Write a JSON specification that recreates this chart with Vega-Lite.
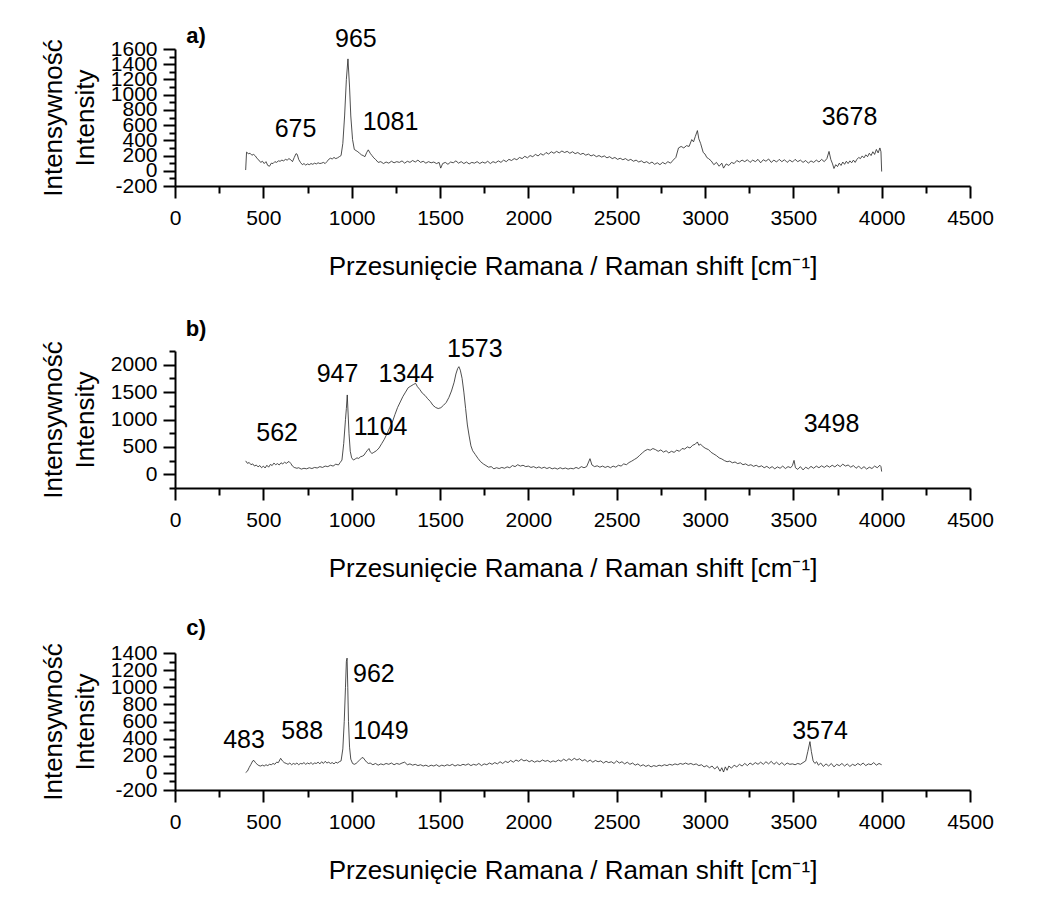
{
"$schema": "https://vega.github.io/schema/vega-lite/v6.json",
"padding": {"left": 40, "top": 24, "right": 5, "bottom": 5},
"background": "white",
"bounds": "flush",
"spacing": 165,
"config": {
  "view": {"stroke": null},
  "font": "Liberation Sans",
  "axis": {"labelFont": "Liberation Sans", "labelFontSize": 21, "labelColor": "#000", "titleFont": "Liberation Sans", "titleFontSize": 26, "titleFontWeight": "normal", "titleColor": "#000", "domainColor": "#000", "domainWidth": 2, "tickColor": "#000", "tickWidth": 2, "grid": false, "labelFlush": false, "labelOverlap": false, "format": "d", "tickCount": 60},
  "text": {"font": "Liberation Sans", "fontSize": 25, "color": "#000"}
},
"datasets": {
"a": [[400,10],[405,245],[415,225],[425,230],[435,205],[445,215],[455,195],[465,160],[475,140],[485,110],[495,125],[505,95],[515,120],[525,70],[535,60],[545,100],[555,95],[565,120],[575,110],[585,130],[595,125],[605,140],[615,130],[625,150],[635,140],[645,160],[655,145],[665,120],[675,175],[685,225],[692,215],[700,150],[710,110],[721,80],[730,95],[740,75],[750,90],[760,80],[770,95],[780,85],[790,100],[800,90],[810,105],[820,95],[830,100],[840,110],[850,95],[860,120],[870,150],[880,165],[890,155],[900,175],[910,160],[920,170],[930,185],[940,200],[950,360],[960,720],[970,1200],[979,1470],[988,1100],[995,720],[1005,410],[1015,280],[1025,265],[1035,250],[1045,230],[1055,210],[1065,200],[1075,185],[1085,240],[1094,275],[1105,230],[1115,200],[1125,170],[1135,150],[1150,110],[1165,120],[1180,95],[1195,115],[1210,100],[1225,125],[1240,105],[1255,120],[1270,110],[1285,130],[1300,100],[1315,125],[1330,110],[1345,135],[1360,115],[1375,140],[1390,110],[1405,125],[1420,100],[1435,120],[1450,105],[1465,115],[1480,95],[1495,110],[1504,35],[1515,95],[1530,110],[1545,85],[1560,115],[1575,105],[1590,130],[1605,100],[1620,120],[1635,95],[1650,115],[1665,90],[1680,110],[1695,100],[1710,120],[1725,95],[1740,115],[1755,100],[1770,125],[1785,95],[1800,120],[1815,105],[1830,130],[1845,110],[1860,140],[1875,120],[1890,150],[1905,135],[1920,160],[1935,145],[1950,175],[1965,160],[1980,190],[1995,170],[2010,200],[2025,185],[2040,215],[2055,195],[2070,225],[2085,205],[2100,240],[2115,220],[2130,250],[2145,230],[2160,255],[2175,235],[2190,260],[2205,240],[2220,255],[2235,230],[2250,250],[2265,225],[2280,240],[2295,215],[2310,230],[2325,205],[2340,220],[2355,195],[2370,210],[2385,185],[2400,200],[2415,180],[2430,195],[2445,170],[2460,185],[2475,160],[2490,175],[2505,150],[2520,165],[2535,145],[2550,160],[2565,135],[2580,150],[2595,125],[2610,140],[2625,115],[2640,130],[2655,105],[2670,120],[2685,95],[2700,115],[2715,85],[2730,105],[2745,80],[2760,110],[2775,90],[2790,120],[2805,100],[2820,140],[2835,175],[2850,300],[2865,320],[2880,300],[2895,330],[2910,320],[2925,410],[2935,380],[2945,450],[2957,528],[2965,420],[2975,360],[2990,240],[3000,220],[3010,175],[3020,160],[3035,130],[3050,80],[3065,110],[3080,60],[3095,100],[3105,35],[3120,90],[3135,70],[3150,110],[3165,95],[3180,135],[3195,115],[3210,140],[3225,120],[3240,145],[3255,110],[3270,140],[3285,120],[3300,150],[3315,105],[3330,145],[3345,125],[3360,155],[3375,110],[3390,140],[3405,115],[3420,150],[3435,120],[3450,145],[3465,110],[3480,140],[3495,115],[3510,150],[3525,120],[3540,140],[3555,110],[3570,135],[3585,100],[3600,130],[3615,110],[3630,140],[3645,115],[3660,150],[3675,120],[3690,160],[3702,254],[3712,150],[3722,90],[3730,30],[3740,80],[3750,55],[3760,100],[3770,70],[3780,115],[3790,85],[3800,125],[3810,95],[3820,130],[3830,105],[3840,140],[3850,110],[3860,150],[3870,175],[3880,160],[3890,195],[3900,170],[3910,210],[3920,185],[3930,230],[3940,200],[3950,250],[3960,215],[3970,280],[3980,235],[3990,300],[3996,250],[4000,-10]],
"b": [[400,245],[410,200],[420,215],[430,175],[440,190],[450,150],[460,170],[470,135],[480,160],[490,120],[500,150],[510,115],[520,165],[530,130],[540,180],[550,160],[560,205],[570,175],[580,195],[590,170],[600,210],[610,190],[620,220],[630,200],[645,235],[655,200],[665,150],[675,125],[690,110],[700,120],[715,95],[730,110],[745,100],[760,120],[775,105],[790,125],[805,115],[820,140],[835,125],[850,150],[865,140],[880,165],[895,150],[910,185],[925,170],[935,215],[945,260],[955,560],[965,1000],[970,1200],[975,1448],[980,1100],[985,740],[992,420],[1000,300],[1010,260],[1020,280],[1030,300],[1040,290],[1050,320],[1060,330],[1070,350],[1080,400],[1090,440],[1098,470],[1105,410],[1115,380],[1125,400],[1140,430],[1155,480],[1170,560],[1185,640],[1200,740],[1215,850],[1230,950],[1245,1090],[1260,1220],[1275,1320],[1290,1420],[1305,1500],[1320,1580],[1335,1610],[1350,1640],[1362,1660],[1372,1600],[1385,1550],[1400,1480],[1415,1440],[1430,1380],[1445,1330],[1460,1260],[1475,1220],[1490,1200],[1505,1215],[1520,1260],[1535,1310],[1550,1400],[1565,1520],[1580,1680],[1590,1830],[1600,1930],[1607,1964],[1615,1900],[1625,1750],[1635,1500],[1645,1200],[1655,900],[1665,700],[1675,520],[1685,430],[1700,360],[1715,290],[1730,230],[1745,190],[1760,160],[1775,130],[1790,140],[1805,100],[1820,120],[1835,105],[1850,125],[1865,110],[1880,135],[1895,120],[1910,160],[1925,140],[1940,175],[1955,150],[1970,165],[1985,140],[2000,150],[2015,125],[2030,140],[2045,115],[2060,135],[2075,110],[2090,130],[2105,105],[2120,125],[2135,100],[2150,115],[2165,95],[2180,120],[2195,100],[2210,115],[2225,95],[2240,110],[2255,100],[2270,125],[2285,105],[2300,140],[2315,120],[2330,140],[2349,285],[2360,170],[2375,140],[2390,155],[2405,130],[2420,150],[2435,125],[2450,145],[2465,120],[2480,150],[2495,130],[2510,165],[2525,150],[2540,190],[2555,175],[2570,215],[2585,240],[2600,270],[2615,300],[2630,345],[2645,390],[2660,430],[2675,455],[2690,440],[2705,470],[2720,450],[2735,420],[2750,445],[2765,405],[2780,430],[2795,390],[2810,420],[2825,400],[2840,440],[2855,420],[2870,470],[2885,460],[2900,500],[2915,480],[2930,530],[2945,550],[2957,590],[2965,530],[2975,550],[2990,500],[3005,470],[3020,450],[3035,400],[3050,370],[3065,340],[3080,300],[3095,280],[3110,250],[3125,230],[3140,240],[3155,210],[3170,225],[3185,195],[3200,210],[3215,175],[3230,190],[3245,160],[3260,175],[3275,145],[3290,165],[3305,135],[3320,155],[3335,120],[3350,145],[3365,110],[3380,140],[3395,100],[3410,135],[3425,110],[3440,150],[3455,105],[3470,140],[3485,120],[3495,160],[3504,254],[3512,120],[3525,90],[3540,140],[3555,80],[3570,130],[3585,100],[3600,145],[3615,110],[3630,150],[3645,120],[3660,155],[3675,125],[3690,160],[3705,130],[3720,165],[3735,135],[3750,175],[3765,140],[3780,185],[3795,150],[3810,170],[3825,130],[3840,160],[3855,110],[3870,150],[3885,100],[3900,140],[3915,95],[3930,130],[3945,105],[3960,150],[3975,120],[3990,165],[3996,140],[4000,50]],
"c": [[400,4],[410,20],[420,63],[430,100],[440,140],[447,145],[455,120],[465,100],[475,85],[485,80],[495,90],[505,80],[515,95],[525,85],[535,100],[545,95],[555,110],[565,100],[575,125],[585,120],[598,170],[608,140],[618,120],[630,110],[640,100],[650,115],[660,95],[670,110],[680,100],[690,115],[700,95],[710,110],[720,105],[730,120],[740,100],[750,115],[760,105],[770,120],[780,100],[790,115],[800,110],[810,125],[820,105],[830,130],[840,110],[850,135],[860,115],[870,125],[880,110],[890,120],[900,105],[910,125],[920,115],[930,130],[940,140],[950,280],[958,600],[965,1000],[970,1300],[974,1340],[978,1000],[982,600],[988,300],[995,160],[1005,110],[1015,100],[1025,110],[1035,130],[1045,150],[1055,170],[1064,180],[1075,150],[1085,125],[1095,110],[1105,115],[1120,95],[1135,110],[1150,90],[1165,105],[1180,95],[1195,110],[1210,100],[1225,115],[1240,95],[1255,110],[1270,100],[1285,115],[1300,125],[1315,95],[1330,105],[1345,90],[1360,100],[1375,85],[1390,95],[1405,80],[1420,90],[1435,75],[1450,90],[1465,80],[1480,95],[1495,75],[1510,90],[1525,80],[1540,95],[1555,85],[1570,100],[1585,80],[1600,95],[1615,85],[1630,100],[1645,90],[1660,105],[1675,85],[1690,100],[1705,90],[1720,110],[1735,85],[1750,105],[1765,95],[1780,115],[1795,100],[1810,120],[1825,105],[1840,130],[1855,110],[1870,135],[1885,120],[1900,145],[1915,125],[1930,150],[1945,135],[1960,160],[1975,140],[1990,150],[2005,130],[2020,145],[2035,125],[2050,140],[2065,130],[2080,150],[2095,135],[2110,145],[2125,125],[2140,140],[2155,130],[2170,150],[2185,135],[2200,160],[2215,140],[2230,165],[2245,145],[2260,170],[2275,150],[2290,165],[2305,140],[2320,155],[2335,130],[2350,150],[2365,125],[2380,145],[2395,130],[2410,140],[2425,115],[2440,135],[2455,120],[2470,130],[2485,110],[2500,140],[2515,115],[2530,130],[2545,105],[2560,125],[2575,100],[2590,115],[2605,90],[2620,105],[2635,80],[2650,95],[2665,75],[2680,90],[2695,70],[2710,85],[2725,75],[2740,90],[2755,80],[2770,95],[2785,85],[2800,100],[2815,90],[2830,105],[2845,95],[2860,110],[2875,100],[2890,115],[2905,100],[2920,110],[2935,95],[2950,105],[2965,85],[2980,95],[2995,70],[3010,85],[3025,60],[3040,80],[3055,45],[3070,75],[3085,20],[3095,60],[3105,10],[3115,70],[3125,30],[3135,80],[3150,55],[3165,90],[3180,70],[3195,100],[3210,80],[3225,110],[3240,85],[3255,115],[3270,95],[3285,120],[3300,100],[3315,125],[3330,100],[3345,130],[3360,105],[3375,135],[3390,100],[3405,125],[3420,95],[3435,120],[3450,90],[3465,115],[3480,100],[3495,105],[3510,95],[3525,110],[3540,100],[3555,120],[3570,140],[3582,250],[3594,365],[3602,250],[3612,140],[3622,110],[3632,130],[3642,90],[3655,115],[3670,75],[3685,105],[3700,80],[3715,110],[3730,70],[3745,100],[3760,85],[3775,110],[3790,80],[3805,105],[3820,75],[3835,100],[3850,85],[3865,110],[3880,90],[3895,115],[3910,85],[3925,105],[3940,95],[3955,120],[3970,90],[3985,110],[4000,95]],
"ann": [
 {"s":"a","x":1024,"y":1725,"t":"965"},{"s":"a","x":682,"y":554,"t":"675"},{"s":"a","x":1220,"y":647,"t":"1081"},{"s":"a","x":3818,"y":713,"t":"3678"},
 {"s":"b","x":920,"y":1836,"t":"947"},{"s":"b","x":1310,"y":1836,"t":"1344"},{"s":"b","x":1697,"y":2291,"t":"1573"},{"s":"b","x":578,"y":745,"t":"562"},{"s":"b","x":1164,"y":855,"t":"1104"},{"s":"b","x":3716,"y":927,"t":"3498"},
 {"s":"c","x":1126,"y":1153,"t":"962"},{"s":"c","x":391,"y":388,"t":"483"},{"s":"c","x":720,"y":494,"t":"588"},{"s":"c","x":1165,"y":494,"t":"1049"},{"s":"c","x":3651,"y":494,"t":"3574"}
],
"lab": [{"s":"a","x":119,"y":1771,"t":"a)"},{"s":"b","x":119,"y":2655,"t":"b)"},{"s":"c","x":119,"y":1694,"t":"c)"}]
},
"vconcat": [
 {"width": 795, "height": 137,
  "layer": [
   {"data": {"name": "a"}, "transform": [{"calculate": "datum[0]", "as": "x"}, {"calculate": "datum[1]", "as": "y"}],
    "mark": {"type": "line", "color": "#222", "strokeWidth": 0.8},
    "encoding": {
     "x": {"field": "x", "type": "quantitative", "scale": {"domain": [0, 4500], "nice": false, "zero": false},
           "axis": {"values": [0,250,500,750,1000,1250,1500,1750,2000,2250,2500,2750,3000,3250,3500,3750,4000,4250,4500], "labelExpr": "datum.value % 500 === 0 ? datum.label : ''", "tickSize": {"condition": {"test": "datum.value % 500 === 0", "value": 12}, "value": 7}, "labelPadding": 9, "title": "Przesunięcie Ramana / Raman shift [cm⁻¹]", "titlePadding": 25}},
     "y": {"field": "y", "type": "quantitative", "scale": {"domain": [-200, 1600], "nice": false, "zero": false},
           "axis": {"values": [-200,-100,0,100,200,300,400,500,600,700,800,900,1000,1100,1200,1300,1400,1500,1600], "labelExpr": "datum.value % 200 === 0 ? replace(datum.label, '−', '-') : ''", "tickSize": {"condition": {"test": "datum.value % 200 === 0", "value": 12}, "value": 6}, "labelPadding": 6, "title": ["Intensywność", "Intensity"], "titleLineHeight": 32, "titlePadding": 12}}
    }},
   {"data": {"name": "ann"}, "transform": [{"filter": "datum.s === 'a'"}], "mark": {"type": "text"},
    "encoding": {"x": {"field": "x", "type": "quantitative"}, "y": {"field": "y", "type": "quantitative"}, "text": {"field": "t"}}},
   {"data": {"name": "lab"}, "transform": [{"filter": "datum.s === 'a'"}], "mark": {"type": "text", "fontWeight": "bold", "fontSize": 22},
    "encoding": {"x": {"field": "x", "type": "quantitative"}, "y": {"field": "y", "type": "quantitative"}, "text": {"field": "t"}}}
  ]},
 {"width": 795, "height": 137,
  "layer": [
   {"data": {"name": "b"}, "transform": [{"calculate": "datum[0]", "as": "x"}, {"calculate": "datum[1]", "as": "y"}],
    "mark": {"type": "line", "color": "#222", "strokeWidth": 0.8},
    "encoding": {
     "x": {"field": "x", "type": "quantitative", "scale": {"domain": [0, 4500], "nice": false, "zero": false},
           "axis": {"values": [0,250,500,750,1000,1250,1500,1750,2000,2250,2500,2750,3000,3250,3500,3750,4000,4250,4500], "labelExpr": "datum.value % 500 === 0 ? datum.label : ''", "tickSize": {"condition": {"test": "datum.value % 500 === 0", "value": 12}, "value": 7}, "labelPadding": 9, "title": "Przesunięcie Ramana / Raman shift [cm⁻¹]", "titlePadding": 25}},
     "y": {"field": "y", "type": "quantitative", "scale": {"domain": [-250, 2250], "nice": false, "zero": false},
           "axis": {"values": [-250,0,250,500,750,1000,1250,1500,1750,2000,2250], "labelExpr": "datum.value % 500 === 0 ? datum.label : ''", "tickSize": {"condition": {"test": "datum.value % 500 === 0", "value": 12}, "value": 6}, "labelPadding": 6, "title": ["Intensywność", "Intensity"], "titleLineHeight": 32, "titlePadding": 12}}
    }},
   {"data": {"name": "ann"}, "transform": [{"filter": "datum.s === 'b'"}], "mark": {"type": "text"},
    "encoding": {"x": {"field": "x", "type": "quantitative"}, "y": {"field": "y", "type": "quantitative"}, "text": {"field": "t"}}},
   {"data": {"name": "lab"}, "transform": [{"filter": "datum.s === 'b'"}], "mark": {"type": "text", "fontWeight": "bold", "fontSize": 22},
    "encoding": {"x": {"field": "x", "type": "quantitative"}, "y": {"field": "y", "type": "quantitative"}, "text": {"field": "t"}}}
  ]},
 {"width": 795, "height": 137,
  "layer": [
   {"data": {"name": "c"}, "transform": [{"calculate": "datum[0]", "as": "x"}, {"calculate": "datum[1]", "as": "y"}],
    "mark": {"type": "line", "color": "#222", "strokeWidth": 0.8},
    "encoding": {
     "x": {"field": "x", "type": "quantitative", "scale": {"domain": [0, 4500], "nice": false, "zero": false},
           "axis": {"values": [0,250,500,750,1000,1250,1500,1750,2000,2250,2500,2750,3000,3250,3500,3750,4000,4250,4500], "labelExpr": "datum.value % 500 === 0 ? datum.label : ''", "tickSize": {"condition": {"test": "datum.value % 500 === 0", "value": 12}, "value": 7}, "labelPadding": 9, "title": "Przesunięcie Ramana / Raman shift [cm⁻¹]", "titlePadding": 25}},
     "y": {"field": "y", "type": "quantitative", "scale": {"domain": [-200, 1400], "nice": false, "zero": false},
           "axis": {"values": [-200,-100,0,100,200,300,400,500,600,700,800,900,1000,1100,1200,1300,1400], "labelExpr": "datum.value % 200 === 0 ? replace(datum.label, '−', '-') : ''", "tickSize": {"condition": {"test": "datum.value % 200 === 0", "value": 12}, "value": 6}, "labelPadding": 6, "title": ["Intensywność", "Intensity"], "titleLineHeight": 32, "titlePadding": 12}}
    }},
   {"data": {"name": "ann"}, "transform": [{"filter": "datum.s === 'c'"}], "mark": {"type": "text"},
    "encoding": {"x": {"field": "x", "type": "quantitative"}, "y": {"field": "y", "type": "quantitative"}, "text": {"field": "t"}}},
   {"data": {"name": "lab"}, "transform": [{"filter": "datum.s === 'c'"}], "mark": {"type": "text", "fontWeight": "bold", "fontSize": 22},
    "encoding": {"x": {"field": "x", "type": "quantitative"}, "y": {"field": "y", "type": "quantitative"}, "text": {"field": "t"}}}
  ]}
]
}
